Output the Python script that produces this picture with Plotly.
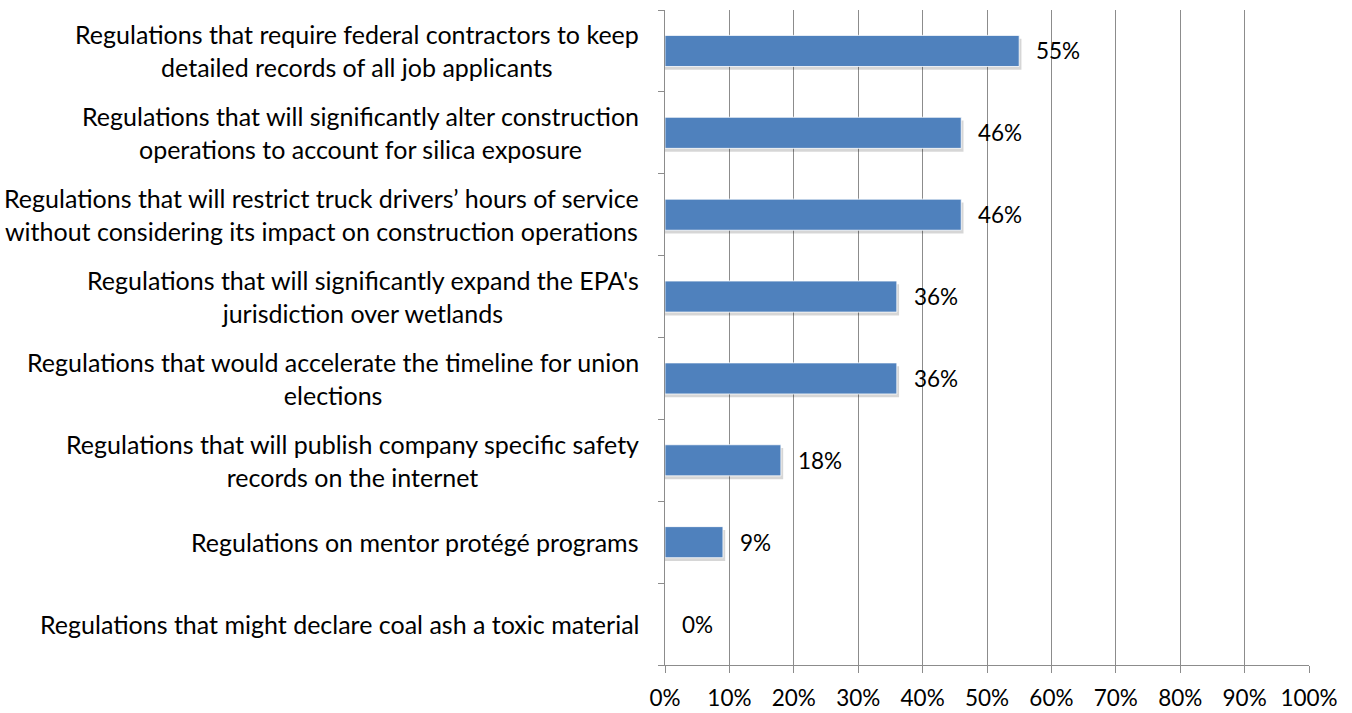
import plotly.graph_objects as go

categories = [
    "Regulations that require federal contractors to keep<br>detailed records of all job applicants",
    "Regulations that will significantly alter construction<br>operations to account for silica exposure",
    "Regulations that will restrict truck drivers\u2019 hours of service<br>without considering its impact on construction operations",
    "Regulations that will significantly expand the EPA's<br>jurisdiction over wetlands",
    "Regulations that would accelerate the timeline for union<br>elections",
    "Regulations that will publish company specific safety<br>records on the internet",
    "Regulations on mentor prot\u00e9g\u00e9 programs",
    "Regulations that might declare coal ash a toxic material",
]
values = [55, 46, 46, 36, 36, 18, 9, 0]
x_ticks = [0, 10, 20, 30, 40, 50, 60, 70, 80, 90, 100]
x_tick_labels = [f"{v}%" for v in x_ticks]

FONT = "Lato"
BAR = "#4F81BD"
GRID = "#8C8C8C"

ids = list(range(len(categories)))

fig = go.Figure()

# soft drop shadow behind each bar
fig.add_trace(go.Bar(
    y=ids, x=[v + 0.35 if v > 0 else 0 for v in values], orientation="h",
    width=0.38, offset=-0.15,
    marker=dict(color="rgba(0,0,0,0.16)", line=dict(width=0)),
    hoverinfo="skip", showlegend=False,
))
fig.add_trace(go.Bar(
    y=ids, x=values, orientation="h", width=0.38,
    marker=dict(color=BAR, line=dict(color="rgba(255,255,255,0.8)", width=1)),
    showlegend=False,
))

annotations = []
for i, (cat, v) in enumerate(zip(categories, values)):
    annotations.append(dict(
        x=v, y=i, xref="x", yref="y", text=f"{v}%", showarrow=False,
        xanchor="left", xshift=15, font=dict(family=FONT, size=22.5, color="black"),
    ))
    annotations.append(dict(
        x=0, y=i, xref="paper", yref="y", text=cat, showarrow=False,
        xanchor="right", xshift=-24, align="center",
        font=dict(family=FONT, size=25, color="black"),
    ))

fig.update_layout(
    width=1352, height=713,
    margin=dict(l=665, r=43, t=10, b=48, autoexpand=False),
    paper_bgcolor="white", plot_bgcolor="white",
    barmode="overlay", bargap=0.62,
    annotations=annotations,
    xaxis=dict(
        range=[0, 100], tickvals=x_ticks, ticktext=x_tick_labels,
        showgrid=True, gridcolor=GRID, gridwidth=1,
        showline=True, linecolor=GRID, linewidth=1,
        ticks="outside", ticklen=7, tickcolor=GRID,
        ticklabelstandoff=6, automargin=False,
        tickfont=dict(family=FONT, size=22.5, color="black"),
        zeroline=False, fixedrange=True,
    ),
    yaxis=dict(
        tickvals=ids, ticktext=[""] * len(ids),
        range=[len(ids) - 0.5, -0.5],
        showgrid=False, showline=True, linecolor=GRID, linewidth=1,
        ticks="outside", ticklen=6, tickcolor=GRID, automargin=False,
        zeroline=False, fixedrange=True,
    ),
)

# category boundary ticks on the y axis
fig.update_yaxes(type="category", tickson="boundaries",
                 categoryorder="array", categoryarray=ids)

fig.write_html("out.html")
